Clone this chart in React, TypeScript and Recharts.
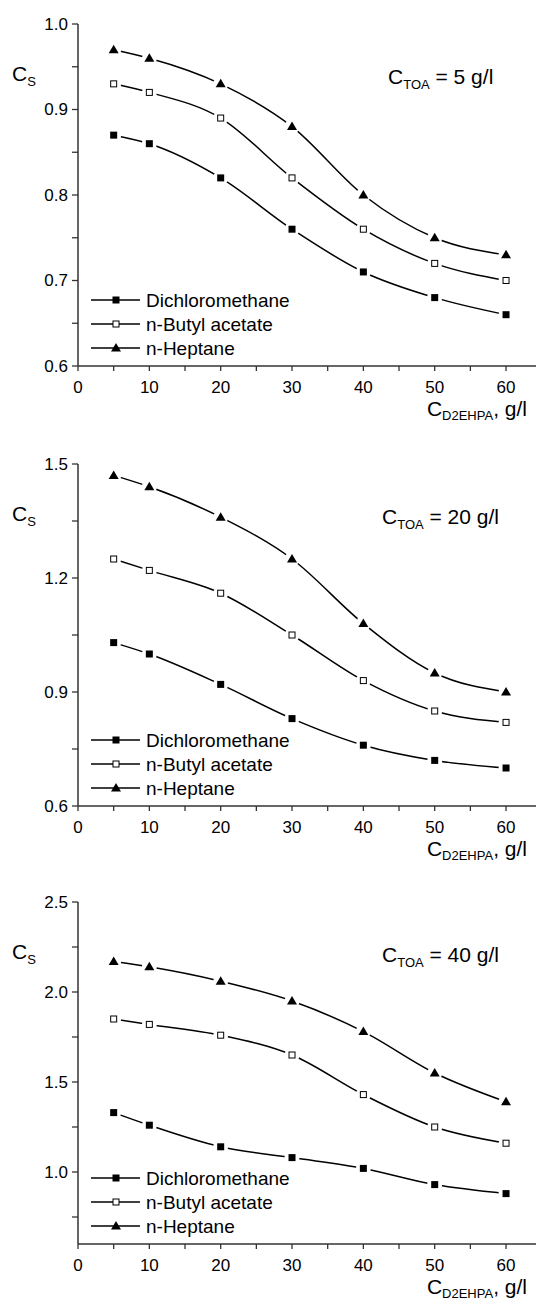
import React from "react";
import { LineChart, Line, XAxis, YAxis, Customized } from "recharts";

const xValues = [5, 10, 20, 30, 40, 50, 60];
const seriesNames = ["Dichloromethane", "n-Butyl acetate", "n-Heptane"];

// C_TOA = 5 g/l
const dcm5 = [0.87, 0.86, 0.82, 0.76, 0.71, 0.68, 0.66];
const nba5 = [0.93, 0.92, 0.89, 0.82, 0.76, 0.72, 0.7];
const hep5 = [0.97, 0.96, 0.93, 0.88, 0.8, 0.75, 0.73];

// C_TOA = 20 g/l
const dcm20 = [1.03, 1.0, 0.92, 0.83, 0.76, 0.72, 0.7];
const nba20 = [1.25, 1.22, 1.16, 1.05, 0.93, 0.85, 0.82];
const hep20 = [1.47, 1.44, 1.36, 1.25, 1.08, 0.95, 0.9];

// C_TOA = 40 g/l
const dcm40 = [1.33, 1.26, 1.14, 1.08, 1.02, 0.93, 0.88];
const nba40 = [1.85, 1.82, 1.76, 1.65, 1.43, 1.25, 1.16];
const hep40 = [2.17, 2.14, 2.06, 1.95, 1.78, 1.55, 1.39];

const xTicks = [0, 5, 10, 15, 20, 25, 30, 35, 40, 45, 50, 55, 60];
const xMajor = [0, 10, 20, 30, 40, 50, 60];

const yTicks5 = [0.6, 0.65, 0.7, 0.75, 0.8, 0.85, 0.9, 0.95, 1.0];
const yMajor5 = [0.6, 0.7, 0.8, 0.9, 1.0];
const yTicks20 = [0.6, 0.75, 0.9, 1.05, 1.2, 1.35, 1.5];
const yMajor20 = [0.6, 0.9, 1.2, 1.5];
const yTicks40 = [0.75, 1.0, 1.25, 1.5, 1.75, 2.0, 2.25, 2.5];
const yMajor40 = [1.0, 1.5, 2.0, 2.5];

const FONT = "'Liberation Sans', Arial, sans-serif";
const W = 536;
const H = 430;
const TOP = 24;
const PLOT_LEFT = 78;
const XAXIS_H = 60;
const BOTTOM = 4;
const PLOT_BOTTOM = H - XAXIS_H - BOTTOM;

const isIn = (arr: number[], v: number) => arr.some((m) => Math.abs(m - v) < 1e-6);

const makeYTick = (major: number[]) => (props: any) => {
  const { x, y, payload } = props;
  return (
    <g>
      <line x1={x - 6} x2={x} y1={y} y2={y} stroke="#333" strokeWidth={1.3} />
      {isIn(major, payload.value) && (
        <text x={x - 10} y={y} dy="0.35em" textAnchor="end" fontSize={17} fontFamily={FONT} fill="#000">
          {payload.value.toFixed(1)}
        </text>
      )}
    </g>
  );
};

const XTick = (props: any) => {
  const { x, y, payload } = props;
  return (
    <g>
      <line x1={x} x2={x} y1={y} y2={y + 5} stroke="#333" strokeWidth={1.3} />
      {isIn(xMajor, payload.value) && (
        <text x={x} y={y + 27} textAnchor="middle" fontSize={17} fontFamily={FONT} fill="#000">
          {payload.value}
        </text>
      )}
    </g>
  );
};

const Gap = ({ cx, cy }: any) => <circle cx={cx} cy={cy} r={7.5} fill="#fff" />;

const FilledSquare = (props: any) => {
  const { cx, cy, gap = true } = props;
  if (cx == null || cy == null) return null;
  return (
    <g>
      {gap && <Gap cx={cx} cy={cy} />}
      <rect x={cx - 3.5} y={cy - 3.5} width={7} height={7} fill="#000" />
    </g>
  );
};

const OpenSquare = (props: any) => {
  const { cx, cy, gap = true } = props;
  if (cx == null || cy == null) return null;
  return (
    <g>
      {gap && <Gap cx={cx} cy={cy} />}
      <rect x={cx - 3} y={cy - 3} width={6} height={6} fill="#fff" stroke="#000" strokeWidth={1} />
    </g>
  );
};

const Triangle = (props: any) => {
  const { cx, cy, gap = true } = props;
  if (cx == null || cy == null) return null;
  return (
    <g>
      {gap && <Gap cx={cx} cy={cy} />}
      <polygon points={`${cx},${cy - 5} ${cx - 5},${cy + 3.5} ${cx + 5},${cy + 3.5}`} fill="#000" />
    </g>
  );
};

const markers = [FilledSquare, OpenSquare, Triangle];
const keys = ["dcm", "nba", "hep"];

const Overlay = ({ toa, toaX }: { toa: string; toaX: number }) => (
  <g fontFamily={FONT} fill="#000">
    <text x={12} y={TOP + 57} fontSize={21}>
      C<tspan fontSize={13} dy={5}>S</tspan>
    </text>
    <text x={toaX} y={TOP + 60} fontSize={21}>
      C<tspan fontSize={13} dy={5}>TOA</tspan>
      <tspan dy={-5}>{` = ${toa} g/l`}</tspan>
    </text>
    <text x={527} y={PLOT_BOTTOM + 50} fontSize={21} textAnchor="end">
      C<tspan fontSize={13} dy={4}>D2EHPA</tspan>
      <tspan dy={-4}>, g/l</tspan>
    </text>
    {seriesNames.map((name, i) => {
      const cy = PLOT_BOTTOM - 66 + i * 24;
      const M = markers[i];
      return (
        <g key={name}>
          <line x1={91} x2={140} y1={cy} y2={cy} stroke="#000" strokeWidth={1.5} />
          <M cx={116} cy={cy} gap={false} />
          <text x={146} y={cy} dy="0.35em" fontSize={19}>
            {name}
          </text>
        </g>
      );
    })}
  </g>
);

function Panel({
  series,
  yDomain,
  yTicks,
  yMajor,
  toa,
  toaX,
}: {
  series: number[][];
  yDomain: [number, number];
  yTicks: number[];
  yMajor: number[];
  toa: string;
  toaX: number;
}) {
  const data = xValues.map((x, i) => ({
    x,
    dcm: series[0][i],
    nba: series[1][i],
    hep: series[2][i],
  }));
  return (
    <LineChart width={W} height={H} data={data} margin={{ top: TOP, right: 0, left: 0, bottom: BOTTOM }}>
      <XAxis
        dataKey="x"
        type="number"
        domain={[0, 64.2]}
        ticks={xTicks}
        interval={0}
        height={XAXIS_H}
        tickSize={0}
        tickMargin={0}
        tickLine={false}
        tick={XTick}
        axisLine={{ stroke: "#333", strokeWidth: 1.5 }}
        allowDataOverflow
      />
      <YAxis
        type="number"
        domain={yDomain}
        ticks={yTicks}
        interval={0}
        width={PLOT_LEFT}
        tickSize={0}
        tickMargin={0}
        tickLine={false}
        tick={makeYTick(yMajor)}
        axisLine={{ stroke: "#333", strokeWidth: 1.5 }}
        allowDataOverflow
      />
      {keys.map((k, i) => (
        <Line
          key={k}
          dataKey={k}
          type="monotone"
          stroke="#000"
          strokeWidth={1.5}
          dot={markers[i]}
          activeDot={false}
          isAnimationActive={false}
        />
      ))}
      <Customized component={<Overlay toa={toa} toaX={toaX} />} />
    </LineChart>
  );
}

export default function App() {
  return (
    <div style={{ position: "absolute", left: 0, top: 0, width: W, height: 1300, background: "#fff" }}>
      <div style={{ position: "absolute", left: 0, top: 0 }}>
        <Panel series={[dcm5, nba5, hep5]} yDomain={[0.6, 1.0]} yTicks={yTicks5} yMajor={yMajor5} toa="5" toaX={388} />
      </div>
      <div style={{ position: "absolute", left: 0, top: 440 }}>
        <Panel series={[dcm20, nba20, hep20]} yDomain={[0.6, 1.5]} yTicks={yTicks20} yMajor={yMajor20} toa="20" toaX={382} />
      </div>
      <div style={{ position: "absolute", left: 0, top: 878 }}>
        <Panel series={[dcm40, nba40, hep40]} yDomain={[0.6, 2.5]} yTicks={yTicks40} yMajor={yMajor40} toa="40" toaX={382} />
      </div>
    </div>
  );
}
